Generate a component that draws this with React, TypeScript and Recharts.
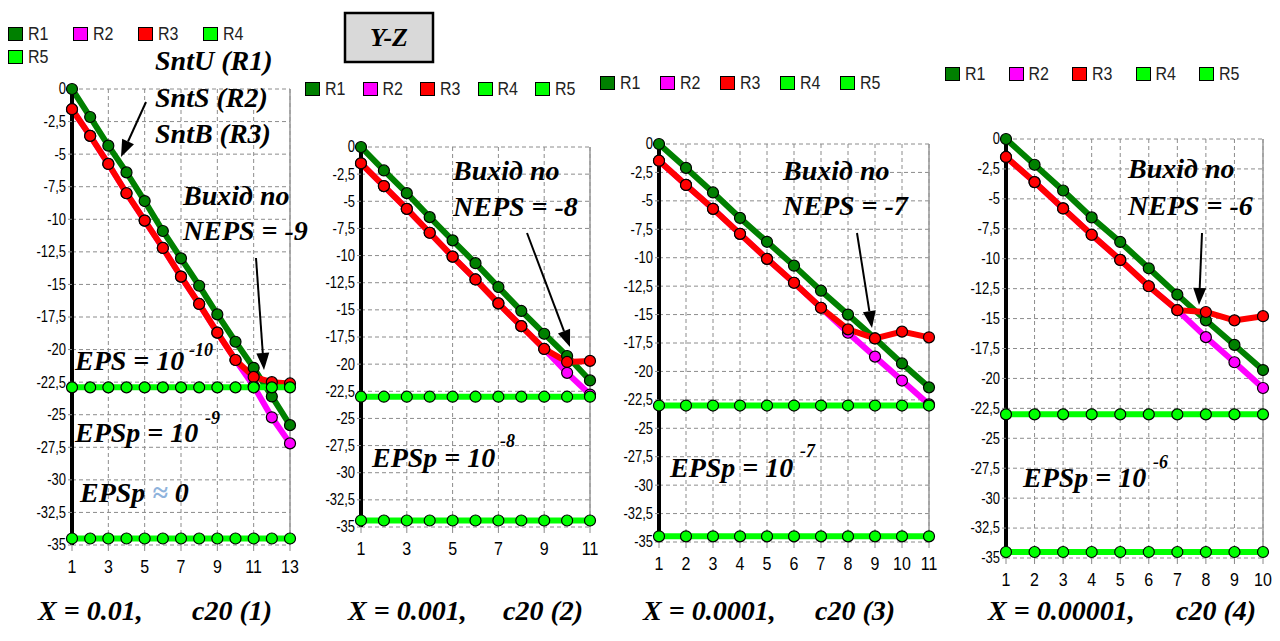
import { LineChart, Line, XAxis, YAxis, CartesianGrid, Legend, ReferenceLine } from 'recharts';

const yTicks = [0, -2.5, -5, -7.5, -10, -12.5, -15, -17.5, -20, -22.5, -25, -27.5, -30, -32.5, -35];

// c20 (1), X = 0.01
const p1X = [1, 2, 3, 4, 5, 6, 7, 8, 9, 10, 11, 12, 13];
const p1Ticks = [1, 3, 5, 7, 9, 11, 13];
const p1R1 = [0, -2.15, -4.35, -6.4, -8.6, -10.9, -13.0, -15.1, -17.3, -19.4, -21.4, -23.6, -25.8];
const p1R2 = [-1.55, -3.6, -5.75, -8.0, -10.1, -12.2, -14.4, -16.5, -18.7, -20.8, -22.8, -25.2, -27.2];
const p1R3 = [-1.55, -3.6, -5.75, -8.0, -10.1, -12.2, -14.4, -16.5, -18.7, -20.8, -22.1, -22.5, -22.6];
const p1R4 = [-22.9, -22.9, -22.9, -22.9, -22.9, -22.9, -22.9, -22.9, -22.9, -22.9, -22.9, -22.9, -22.9];
const p1R5 = [-34.5, -34.5, -34.5, -34.5, -34.5, -34.5, -34.5, -34.5, -34.5, -34.5, -34.5, -34.5, -34.5];

// c20 (2), X = 0.001
const p2X = [1, 2, 3, 4, 5, 6, 7, 8, 9, 10, 11];
const p2Ticks = [1, 3, 5, 7, 9, 11];
const p2R1 = [0, -2.16, -4.25, -6.46, -8.6, -10.7, -12.9, -15.1, -17.2, -19.25, -21.5];
const p2R2 = [-1.5, -3.6, -5.7, -7.9, -10.1, -12.2, -14.4, -16.5, -18.6, -20.8, -22.8];
const p2R3 = [-1.5, -3.6, -5.7, -7.9, -10.1, -12.2, -14.4, -16.5, -18.6, -19.8, -19.7];
const p2R4 = [-23, -23, -23, -23, -23, -23, -23, -23, -23, -23, -23];
const p2R5 = [-34.4, -34.4, -34.4, -34.4, -34.4, -34.4, -34.4, -34.4, -34.4, -34.4, -34.4];

// c20 (3), X = 0.0001
const p3X = [1, 2, 3, 4, 5, 6, 7, 8, 9, 10, 11];
const p3Ticks = [1, 2, 3, 4, 5, 6, 7, 8, 9, 10, 11];
const p3R1 = [0, -2.1, -4.26, -6.5, -8.6, -10.7, -12.9, -15.0, -17.1, -19.3, -21.4];
const p3R2 = [-1.47, -3.6, -5.7, -7.9, -10.1, -12.2, -14.4, -16.6, -18.7, -20.8, -22.9];
const p3R3 = [-1.47, -3.6, -5.7, -7.9, -10.1, -12.2, -14.4, -16.3, -17.1, -16.5, -17.0];
const p3R4 = [-23, -23, -23, -23, -23, -23, -23, -23, -23, -23, -23];
const p3R5 = [-34.5, -34.5, -34.5, -34.5, -34.5, -34.5, -34.5, -34.5, -34.5, -34.5, -34.5];

// c20 (4), X = 0.00001
const p4X = [1, 2, 3, 4, 5, 6, 7, 8, 9, 10];
const p4Ticks = [1, 2, 3, 4, 5, 6, 7, 8, 9, 10];
const p4R1 = [0, -2.15, -4.3, -6.55, -8.6, -10.8, -13.0, -15.15, -17.2, -19.3];
const p4R2 = [-1.5, -3.6, -5.8, -8.0, -10.1, -12.3, -14.3, -16.55, -18.65, -20.8];
const p4R3 = [-1.5, -3.6, -5.8, -8.0, -10.1, -12.3, -14.3, -14.45, -15.15, -14.8];
const p4R4 = [-23, -23, -23, -23, -23, -23, -23, -23, -23, -23];
const p4R5 = [-34.5, -34.5, -34.5, -34.5, -34.5, -34.5, -34.5, -34.5, -34.5, -34.5];

const seriesNames = ['R1', 'R2', 'R3', 'R4', 'R5'];
const seriesColors = ['#008000', '#ff00ff', '#ff0000', '#00ff00', '#00ff00'];

function buildRows(xs: number[], r1: number[], r2: number[], r3: number[], r4: number[], r5: number[]) {
  return xs.map((x, i) => ({ x, r1: r1[i], r2: r2[i], r3: r3[i], r4: r4[i], r5: r5[i] }));
}

const panels = [
  {
    data: buildRows(p1X, p1R1, p1R2, p1R3, p1R4, p1R5), ticks: p1Ticks,
    plotLeft: 72, plotRight: 290, plotTop: 89, plotBottom: 545,
    legendX: 8, legendY: 22, itemW: 65, perRow: 4, rowH: 23,
  },
  {
    data: buildRows(p2X, p2R1, p2R2, p2R3, p2R4, p2R5), ticks: p2Ticks,
    plotLeft: 361, plotRight: 590, plotTop: 147, plotBottom: 527,
    legendX: 305, legendY: 80, itemW: 57.5, perRow: 5, rowH: 18,
  },
  {
    data: buildRows(p3X, p3R1, p3R2, p3R3, p3R4, p3R5), ticks: p3Ticks,
    plotLeft: 659, plotRight: 929, plotTop: 144, plotBottom: 542,
    legendX: 600, legendY: 74, itemW: 60, perRow: 5, rowH: 18,
  },
  {
    data: buildRows(p4X, p4R1, p4R2, p4R3, p4R4, p4R5), ticks: p4Ticks,
    plotLeft: 1006, plotRight: 1263, plotTop: 139, plotBottom: 558,
    legendX: 945, legendY: 65, itemW: 63.5, perRow: 5, rowH: 18,
  },
];

const sans = 'Liberation Sans, Arial, sans-serif';
const fmt = (v: number) => String(v).replace('.', ',');

function YTick({ x, y, payload }: any) {
  return (
    <text transform={`translate(${x},${y}) scale(1,1.2)`} x={0} y={0} dy={4.5} textAnchor="end" fontSize={13} fontFamily={sans} fill="#000">
      {fmt(payload.value)}
    </text>
  );
}

function XTick({ x, y, payload }: any) {
  return (
    <text transform={`translate(${x},${y}) scale(1,1.15)`} x={0} y={0} dy={14} textAnchor="middle" fontSize={16} fontFamily={sans} fill="#000">
      {payload.value}
    </text>
  );
}

function legendContent(itemW: number, rowH: number) {
  return ({ payload }: any) => (
    <div style={{ display: 'flex', flexWrap: 'wrap', fontFamily: sans, fontSize: 16, color: '#222' }}>
      {(payload || []).map((e: any) => (
        <div key={e.value} style={{ width: itemW, height: rowH, display: 'flex', alignItems: 'center' }}>
          <span style={{ display: 'inline-block', width: 15, height: 14, boxSizing: 'border-box', background: e.color, border: '1px solid #000', marginRight: 5 }} />
          <span style={{ display: 'inline-block', transform: 'scaleY(1.15)' }}>{e.value}</span>
        </div>
      ))}
    </div>
  );
}

function Panel({ p }: { p: (typeof panels)[number] }) {
  const boxLeft = p.plotLeft - 70;
  const width = p.plotRight - p.plotLeft + 82;
  const height = p.plotBottom + 40;
  const maxX = p.ticks[p.ticks.length - 1];
  return (
    <div style={{ position: 'absolute', left: boxLeft, top: 0 }}>
      <LineChart width={width} height={height} data={p.data} margin={{ top: p.plotTop, left: 20, right: 12, bottom: 10 }}>
        <CartesianGrid stroke="#8c8c8c" strokeDasharray="4 3" />
        <XAxis
          dataKey="x" type="number" domain={[1, maxX]} ticks={p.ticks} interval={0}
          axisLine={false} tickLine={{ stroke: '#8c8c8c' }} tickSize={6} tickMargin={6} height={30}
          tick={<XTick />}
        />
        <YAxis
          type="number" domain={[-35, 0]} ticks={yTicks} interval={0} width={50}
          axisLine={{ stroke: '#000', strokeWidth: 4 }} tickLine={{ stroke: '#8c8c8c' }} tickSize={4} tickMargin={2}
          tick={<YTick />}
        />
        <ReferenceLine x={maxX} stroke="#999" strokeWidth={1.5} />
        <Legend
          layout="horizontal" verticalAlign="middle" align="center"
          wrapperStyle={{ position: 'absolute', left: p.legendX - boxLeft, top: p.legendY, width: p.itemW * p.perRow + 2, bottom: 'auto' }}
          content={legendContent(p.itemW, p.rowH)}
        />
        {seriesNames.map((name, i) => (
          <Line
            key={name} type="linear" dataKey={`r${i + 1}`} name={name}
            stroke={seriesColors[i]} strokeWidth={6}
            dot={{ r: 5.5, fill: seriesColors[i], stroke: '#000', strokeWidth: 1.2 }}
            activeDot={false} isAnimationActive={false}
          />
        ))}
      </LineChart>
    </div>
  );
}

const serif = "'Liberation Serif', 'Times New Roman', serif";

function Arrow({ x1, y1, x2, y2 }: { x1: number; y1: number; x2: number; y2: number }) {
  const a = Math.atan2(y2 - y1, x2 - x1);
  const len = 17;
  const half = 6.5;
  const bx = x2 - len * Math.cos(a);
  const by = y2 - len * Math.sin(a);
  const px = -Math.sin(a) * half;
  const py = Math.cos(a) * half;
  return (
    <g>
      <line x1={x1} y1={y1} x2={bx} y2={by} stroke="#000" strokeWidth={2} />
      <polygon points={`${x2},${y2} ${bx + px},${by + py} ${bx - px},${by - py}`} fill="#000" />
    </g>
  );
}

const labels: [string, number, number][] = [
  ['SntU (R1)', 155, 70],
  ['SntS (R2)', 155, 107],
  ['SntB (R3)', 155, 143],
  ['Вихід по', 183, 205],
  ['NEPS = -9', 183, 240],
  ['EPS = 10', 75, 370],
  ['EPSp = 10', 75, 442],
  ['X = 0.01,', 38, 620],
  ['c20 (1)', 192, 620],
  ['Вихід по', 453, 180],
  ['NEPS = -8', 453, 216],
  ['EPSp = 10', 372, 467],
  ['X = 0.001,', 348, 620],
  ['c20 (2)', 503, 620],
  ['Вихід по', 783, 180],
  ['NEPS = -7', 783, 215],
  ['EPSp = 10', 670, 477],
  ['X = 0.0001,', 643, 620],
  ['c20 (3)', 815, 620],
  ['Вихід по', 1128, 178],
  ['NEPS = -6', 1128, 215],
  ['EPSp = 10', 1023, 487],
  ['X = 0.00001,', 988, 620],
  ['c20 (4)', 1176, 620],
];

const supers: [string, number, number][] = [
  ['-10', 189, 356],
  ['-9', 205, 424],
  ['-8', 500, 447],
  ['-7', 800, 457],
  ['-6', 1153, 468],
];

const arrows = [
  [146, 102, 121, 157],
  [256, 258, 264, 370],
  [527, 233, 570, 347],
  [857, 233, 872, 328],
  [1202, 233, 1199, 305],
];

export default function App() {
  return (
    <div style={{ position: 'absolute', left: 0, top: 0, width: 1280, height: 641, background: '#fff', overflow: 'hidden' }}>
      {panels.map((p, i) => (
        <Panel key={i} p={p} />
      ))}
      <svg width={1280} height={641} style={{ position: 'absolute', left: 0, top: 0, pointerEvents: 'none' }}>
        <rect x={345} y={13} width={88} height={49} fill="#d9d9d9" stroke="#000" strokeWidth={2.5} />
        <text x={389} y={46} textAnchor="middle" fontFamily={serif} fontWeight="bold" fontStyle="italic" fontSize={26}>Y-Z</text>
        {labels.map(([t, x, y], i) => (
          <text key={i} x={x} y={y} fontFamily={serif} fontWeight="bold" fontStyle="italic" fontSize={28} fill="#000">{t}</text>
        ))}
        {supers.map(([t, x, y], i) => (
          <text key={i} x={x} y={y} fontFamily={serif} fontWeight="bold" fontStyle="italic" fontSize={18} fill="#000">{t}</text>
        ))}
        <text x={80} y={502} fontFamily={serif} fontWeight="bold" fontStyle="italic" fontSize={28} fill="#000">
          EPSp <tspan fill="#8fb3dc">≈</tspan> 0
        </text>
        {arrows.map(([x1, y1, x2, y2], i) => (
          <Arrow key={i} x1={x1} y1={y1} x2={x2} y2={y2} />
        ))}
      </svg>
    </div>
  );
}
